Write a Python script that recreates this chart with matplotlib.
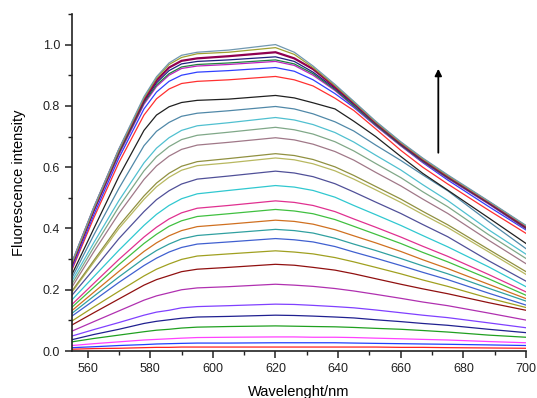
import matplotlib
matplotlib.use("Agg")
import matplotlib.pyplot as plt
from matplotlib.ticker import MultipleLocator

plt.rcParams['font.family'] = ['Liberation Sans', 'DejaVu Sans']

wavelength = [555, 562, 570, 578, 582, 586, 590, 595, 605, 620,
              626, 632, 639, 645, 652, 660, 667, 675, 688, 700]

# spectra, bottom (lowest) to top
spectra = [
    [0.006, 0.008, 0.009, 0.011, 0.012, 0.012, 0.013, 0.013, 0.013, 0.013, 0.013, 0.013, 0.013, 0.013, 0.013, 0.012, 0.012, 0.011, 0.010, 0.009],
    [0.011, 0.014, 0.018, 0.021, 0.023, 0.024, 0.025, 0.026, 0.026, 0.027, 0.027, 0.027, 0.027, 0.026, 0.025, 0.024, 0.023, 0.022, 0.020, 0.018],
    [0.018, 0.024, 0.030, 0.036, 0.038, 0.040, 0.042, 0.044, 0.045, 0.046, 0.046, 0.045, 0.045, 0.044, 0.042, 0.040, 0.038, 0.036, 0.031, 0.027],
    [0.030, 0.041, 0.052, 0.063, 0.068, 0.071, 0.075, 0.078, 0.080, 0.082, 0.081, 0.080, 0.079, 0.077, 0.074, 0.071, 0.067, 0.062, 0.052, 0.045],
    [0.037, 0.054, 0.071, 0.090, 0.097, 0.102, 0.107, 0.111, 0.113, 0.117, 0.116, 0.114, 0.111, 0.108, 0.102, 0.096, 0.090, 0.084, 0.071, 0.060],
    [0.049, 0.070, 0.093, 0.117, 0.127, 0.133, 0.141, 0.145, 0.148, 0.153, 0.152, 0.149, 0.145, 0.141, 0.134, 0.125, 0.117, 0.109, 0.092, 0.076],
    [0.065, 0.096, 0.131, 0.166, 0.180, 0.190, 0.200, 0.206, 0.210, 0.218, 0.215, 0.211, 0.204, 0.196, 0.185, 0.172, 0.160, 0.148, 0.124, 0.101],
    [0.085, 0.125, 0.170, 0.215, 0.233, 0.246, 0.259, 0.267, 0.273, 0.283, 0.280, 0.273, 0.264, 0.252, 0.236, 0.218, 0.203, 0.187, 0.158, 0.133],
    [0.098, 0.144, 0.195, 0.245, 0.267, 0.284, 0.299, 0.310, 0.317, 0.327, 0.323, 0.317, 0.305, 0.291, 0.273, 0.252, 0.232, 0.211, 0.173, 0.142],
    [0.114, 0.165, 0.224, 0.279, 0.303, 0.323, 0.338, 0.349, 0.356, 0.367, 0.363, 0.356, 0.341, 0.323, 0.303, 0.279, 0.257, 0.233, 0.189, 0.150],
    [0.123, 0.179, 0.242, 0.302, 0.328, 0.349, 0.366, 0.377, 0.385, 0.397, 0.393, 0.385, 0.368, 0.349, 0.328, 0.302, 0.278, 0.252, 0.205, 0.163],
    [0.132, 0.192, 0.260, 0.325, 0.353, 0.376, 0.393, 0.406, 0.414, 0.427, 0.423, 0.414, 0.396, 0.376, 0.353, 0.325, 0.298, 0.269, 0.218, 0.171],
    [0.143, 0.208, 0.282, 0.351, 0.381, 0.407, 0.425, 0.439, 0.448, 0.462, 0.457, 0.448, 0.429, 0.407, 0.381, 0.351, 0.322, 0.291, 0.236, 0.182],
    [0.152, 0.221, 0.299, 0.372, 0.404, 0.431, 0.451, 0.466, 0.475, 0.490, 0.485, 0.475, 0.455, 0.431, 0.404, 0.372, 0.342, 0.309, 0.250, 0.193],
    [0.167, 0.243, 0.329, 0.410, 0.446, 0.475, 0.497, 0.513, 0.524, 0.540, 0.535, 0.524, 0.502, 0.475, 0.445, 0.410, 0.377, 0.340, 0.275, 0.210],
    [0.182, 0.267, 0.367, 0.455, 0.494, 0.523, 0.545, 0.561, 0.571, 0.587, 0.581, 0.569, 0.546, 0.519, 0.486, 0.449, 0.413, 0.373, 0.295, 0.228],
    [0.192, 0.290, 0.400, 0.495, 0.536, 0.567, 0.590, 0.605, 0.614, 0.630, 0.624, 0.611, 0.588, 0.561, 0.526, 0.485, 0.446, 0.403, 0.324, 0.250],
    [0.196, 0.296, 0.409, 0.506, 0.548, 0.580, 0.603, 0.618, 0.628, 0.644, 0.638, 0.625, 0.601, 0.573, 0.537, 0.496, 0.456, 0.412, 0.332, 0.259],
    [0.209, 0.324, 0.449, 0.560, 0.604, 0.636, 0.658, 0.672, 0.681, 0.696, 0.689, 0.675, 0.651, 0.623, 0.583, 0.539, 0.496, 0.449, 0.362, 0.285],
    [0.219, 0.339, 0.471, 0.588, 0.634, 0.667, 0.690, 0.704, 0.714, 0.730, 0.722, 0.708, 0.683, 0.653, 0.612, 0.566, 0.520, 0.471, 0.380, 0.302],
    [0.229, 0.354, 0.491, 0.614, 0.662, 0.696, 0.720, 0.735, 0.745, 0.762, 0.754, 0.739, 0.713, 0.682, 0.639, 0.591, 0.543, 0.491, 0.396, 0.316],
    [0.239, 0.379, 0.531, 0.670, 0.717, 0.746, 0.766, 0.776, 0.784, 0.798, 0.790, 0.774, 0.748, 0.718, 0.672, 0.622, 0.575, 0.523, 0.423, 0.334],
    [0.250, 0.400, 0.570, 0.720, 0.770, 0.797, 0.811, 0.818, 0.822, 0.834, 0.826, 0.810, 0.790, 0.750, 0.700, 0.635, 0.580, 0.525, 0.435, 0.351],
    [0.265, 0.435, 0.615, 0.770, 0.823, 0.855, 0.873, 0.880, 0.885, 0.896, 0.885, 0.865, 0.825, 0.785, 0.725, 0.655, 0.600, 0.545, 0.460, 0.384],
    [0.270, 0.445, 0.630, 0.790, 0.845, 0.880, 0.900, 0.910, 0.915, 0.925, 0.913, 0.885, 0.840, 0.795, 0.735, 0.670, 0.615, 0.558, 0.472, 0.395],
    [0.275, 0.455, 0.640, 0.805, 0.863, 0.900, 0.922, 0.930, 0.935, 0.945, 0.932, 0.900, 0.850, 0.798, 0.736, 0.670, 0.617, 0.563, 0.480, 0.398],
    [0.280, 0.460, 0.645, 0.810, 0.868, 0.905, 0.927, 0.935, 0.940, 0.950, 0.937, 0.905, 0.853, 0.800, 0.738, 0.672, 0.619, 0.565, 0.482, 0.400],
    [0.280, 0.460, 0.650, 0.815, 0.875, 0.915, 0.937, 0.945, 0.950, 0.960, 0.945, 0.910, 0.857, 0.805, 0.742, 0.675, 0.622, 0.568, 0.484, 0.403],
    [0.285, 0.465, 0.655, 0.820, 0.883, 0.925, 0.947, 0.955, 0.962, 0.975, 0.955, 0.920, 0.862, 0.810, 0.745, 0.678, 0.625, 0.570, 0.486, 0.405],
    [0.285, 0.465, 0.655, 0.825, 0.890, 0.935, 0.958, 0.970, 0.975, 0.990, 0.968, 0.925, 0.866, 0.812, 0.747, 0.680, 0.627, 0.572, 0.488, 0.408],
    [0.290, 0.470, 0.660, 0.830, 0.895, 0.940, 0.965, 0.975, 0.982, 1.000, 0.975, 0.930, 0.870, 0.815, 0.750, 0.683, 0.630, 0.575, 0.490, 0.410],
]

colors = ['#ff2020', '#2040ff', '#ff40ff', '#20a020', '#202090', '#8040ff', '#b030b0',
          '#901010', '#a0a020', '#4060d0', '#30a0a0', '#d07020', '#40c040', '#e03090',
          '#30c8d0', '#505098', '#b8b860', '#909040', '#a07888', '#80a888', '#50c0d0',
          '#5088a8', '#202020', '#ff3030', '#3040ff', '#c020c0', '#208040', '#202080',
          '#900050', '#a0a030', '#7098b0']

fig = plt.figure(figsize=(5.37, 3.98), dpi=100)
ax = fig.add_axes([0.134, 0.118, 0.8455, 0.847])

for i in range(len(spectra)):
    lw = 1.6 if i == 28 else 0.9
    ax.plot(wavelength, spectra[i], color=colors[i], lw=lw)

ax.annotate('', xy=(672, 0.93), xytext=(672, 0.638),
            arrowprops=dict(arrowstyle='-|>', color='black', lw=1.3,
                            mutation_scale=10))

ax.set_xlim(555, 700)
ax.set_ylim(0, 1.1)
ax.xaxis.set_major_locator(MultipleLocator(20))
ax.xaxis.set_minor_locator(MultipleLocator(10))
ax.yaxis.set_major_locator(MultipleLocator(0.2))
ax.yaxis.set_minor_locator(MultipleLocator(0.1))
ax.set_yticks([0, 0.2, 0.4, 0.6, 0.8, 1.0])
ax.set_yticklabels(['0.0', '0.2', '0.4', '0.6', '0.8', '1.0'])

for s in ['top', 'right']:
    ax.spines[s].set_visible(False)
for s in ['left', 'bottom']:
    ax.spines[s].set_linewidth(1.2)
    ax.spines[s].set_color('#222222')

ax.tick_params(which='major', direction='out', length=5, width=1.1, labelsize=9, colors='#222222')
ax.tick_params(which='minor', direction='out', length=3, width=1.0, colors='#222222')

ax.set_xlabel('Wavelenght/nm', fontsize=10.5, labelpad=7)
ax.set_ylabel('Fluorescence intensity', fontsize=10.5, labelpad=12)

fig.savefig('out.png', dpi=100)
